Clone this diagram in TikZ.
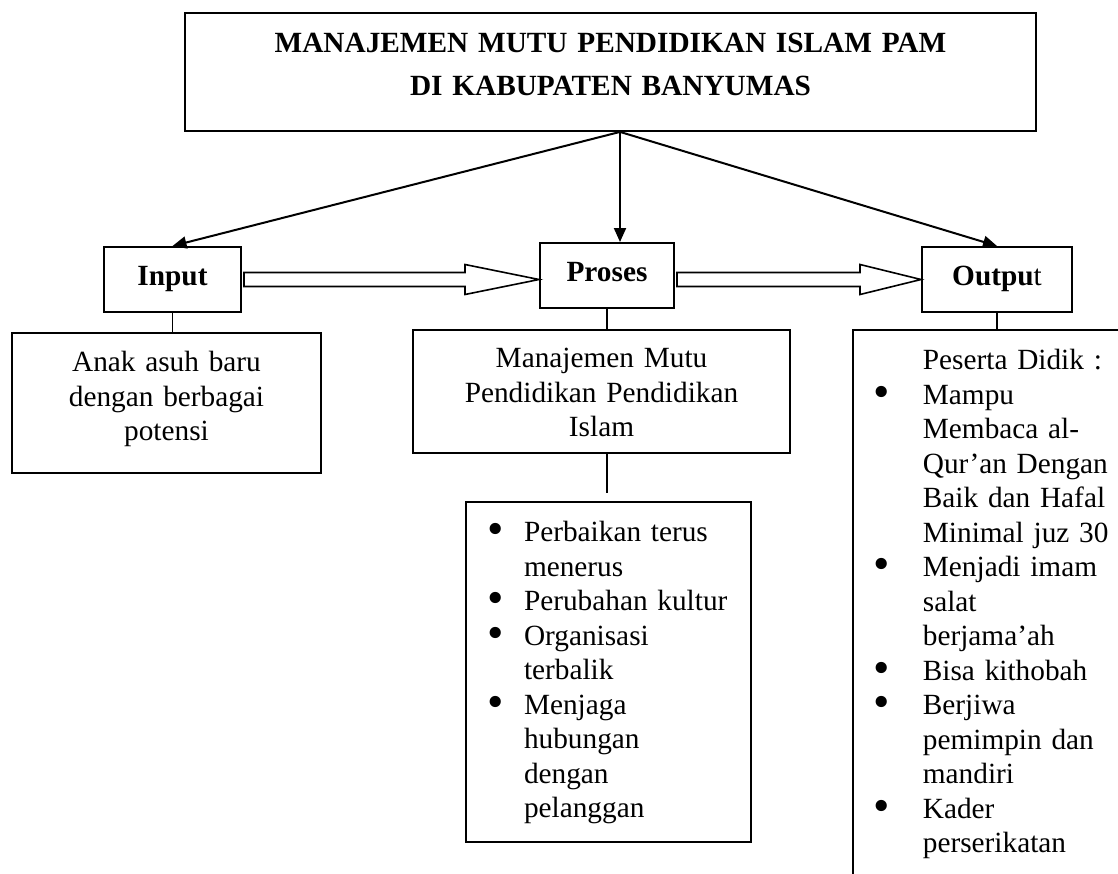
\documentclass[tikz,border=0pt]{standalone}
\usepackage{fontspec}
\setmainfont{Liberation Serif}
\usetikzlibrary{arrows.meta,calc}
\newcommand{\diagfont}{\fontsize{14.65pt}{17.25pt}\selectfont}
\newcommand{\blt}[1][18.5pt]{\makebox[#1][l]{\raisebox{-1.3pt}{\scalebox{1.6}{\textbullet}}}}
\newcommand{\bsp}[1][18.5pt]{\hspace*{#1}}
\begin{document}
\begin{tikzpicture}[x=0.5pt, y=-0.5pt, font=\diagfont, >={Triangle[length=7pt,width=6pt]},
	labelbox/.style={draw, line width=1pt, font=\diagfont\bfseries, inner ysep=0pt, text height=19pt, text depth=13.5pt},
	textbox/.style={draw, line width=0.9pt, anchor=north, inner sep=0pt, align=center},
	link/.style={line width=0.8pt},
	toparrow/.style={->, line width=1pt},
	hollow/.style={line width=0.8pt, line join=miter}]
	\def \shaft{7}
	\def \head{15}
	\useasboundingbox (0,0) rectangle (1118,873);
	\clip (0,0) rectangle (1118,873);
	% judul
	\node[textbox, text width=425.5pt, font=\diagfont\bfseries] (tt) at (610.5,12)
		{\rule{0pt}{20pt}MANAJEMEN MUTU PENDIDIKAN ISLAM PAM\\[3.8pt]DI KABUPATEN BANYUMAS\rule[-18pt]{0pt}{18pt}};
	% input - proses - output
	\node[labelbox, minimum width=68.5pt] (in) at (172.5,279.5) {Input};
	\node[labelbox, minimum width=67pt] (pr) at (607,275.5) {Proses};
	\node[labelbox, minimum width=75pt] (ou) at (997,279.5) {Outpu{\mdseries t}};
	% kotak keterangan
	\node[textbox, text width=154.5pt] (an) at (166.5,332)
		{\rule{0pt}{19.5pt}Anak asuh baru\\ dengan berbagai\\ potensi\rule[-16pt]{0pt}{16pt}};
	\node[textbox, text width=188.5pt] (mm) at (601.5,329)
		{\rule{0pt}{19pt}Manajemen Mutu\\ Pendidikan Pendidikan\\ Islam\rule[-8pt]{0pt}{8pt}};
	\node[textbox, text width=121.5pt, inner xsep=10.5pt, align=left] (bl) at (608.5,501)
		{\rule{0pt}{20pt}\blt Perbaikan terus\\ \bsp menerus\\ \blt Perubahan kultur\\ \blt Organisasi\\ \bsp terbalik\\
		\blt Menjaga\\ \bsp hubungan\\ \bsp dengan\\ \bsp pelanggan\rule[-12pt]{0pt}{12pt}};
	\node[textbox, anchor=north west, text width=150pt, inner xsep=10.5pt, align=left] (ot) at (852,329)
		{\rule{0pt}{20pt}\bsp[24.5pt]Peserta Didik :\\ \blt[24.5pt]Mampu\\ \bsp[24.5pt]Membaca al-\\ \bsp[24.5pt]Qur’an Dengan\\
		\bsp[24.5pt]Baik dan Hafal\\ \bsp[24.5pt]Minimal juz 30\\ \blt[24.5pt]Menjadi imam\\ \bsp[24.5pt]salat\\
		\bsp[24.5pt]berjama’ah\\ \blt[24.5pt]Bisa kithobah\\ \blt[24.5pt]Berjiwa\\ \bsp[24.5pt]pemimpin dan\\
		\bsp[24.5pt]mandiri\\ \blt[24.5pt]Kader\\ \bsp[24.5pt]perserikatan\rule[-30pt]{0pt}{30pt}};
	% panah dari judul
	\coordinate (apex) at ($(tt.south)+(9.5,0)$);
	\draw[toparrow] (apex) -- (in.north);
	\draw[toparrow] (apex) -- (apex |- pr.north);
	\draw[toparrow] (apex) -- (ou.north);
	% panah kosong
	\coordinate (a1) at ($(in.east)+(2,0)$);
	\coordinate (b1) at (pr.west |- in.east);
	\coordinate (a2) at ($(pr.east |- ou.west)+(2,0)$);
	\coordinate (b2) at (ou.west);
	\draw[hollow] ($(a1)+(0,-\shaft)$) -- ($(b1)+(-74,-\shaft)$) -- ($(b1)+(-74,-\head)$) -- (b1)
		-- ($(b1)+(-74,\head)$) -- ($(b1)+(-74,\shaft)$) -- ($(a1)+(0,\shaft)$) -- cycle;
	\draw[hollow] ($(a2)+(0,-\shaft)$) -- ($(b2)+(-61,-\shaft)$) -- ($(b2)+(-61,-\head)$) -- (b2)
		-- ($(b2)+(-61,\head)$) -- ($(b2)+(-61,\shaft)$) -- ($(a2)+(0,\shaft)$) -- cycle;
	% garis penghubung
	\draw[link] (in.south) -- (in.south |- an.north);
	\draw[link] (pr.south) -- (pr.south |- mm.north);
	\draw[link] (pr.south |- mm.south) -- ($(pr.south |- bl.north)+(0,-8)$);
	\draw[link] (ou.south) -- (ou.south |- ot.north);
\end{tikzpicture}
\end{document}
